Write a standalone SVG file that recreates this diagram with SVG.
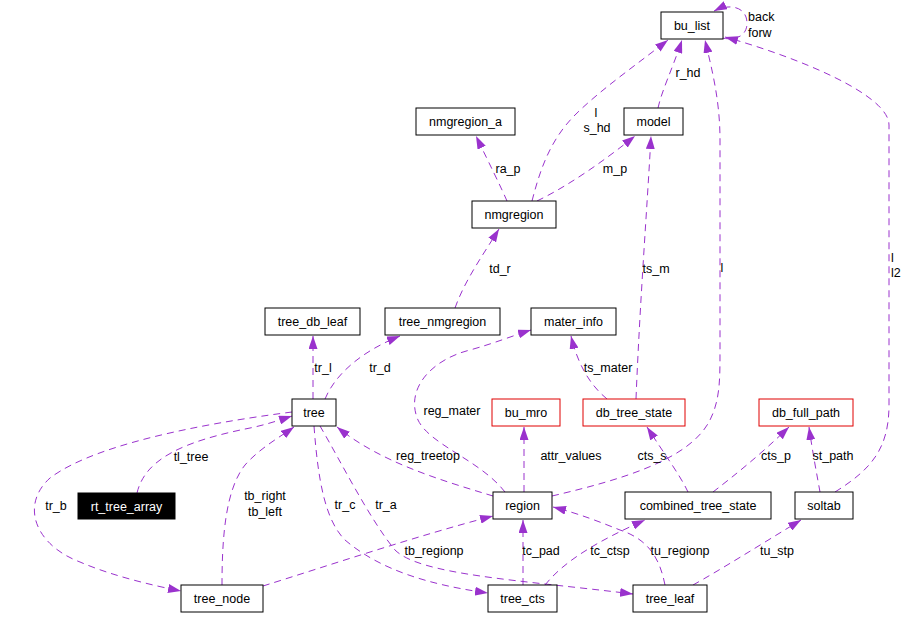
<svg xmlns="http://www.w3.org/2000/svg" width="908" height="617" viewBox="0 0 908 617">
<style>
.n rect{fill:#fff;stroke:#000;stroke-width:1}
.n.r rect{stroke:#e00000}
.n.b rect{fill:#000}
text{font-family:"Liberation Sans",Arial,sans-serif;font-size:12.5px;fill:#000}
.n text{text-anchor:middle}
.n.b text{fill:#fff}
.e path{fill:none;stroke:#9a32cd;stroke-width:1;stroke-dasharray:7,5;marker-end:url(#ah)}
.lb text{text-anchor:middle}
</style>
<defs>
<marker id="ah" viewBox="0 0 13 9" markerWidth="13" markerHeight="9" refX="13" refY="4.5" orient="auto" markerUnits="userSpaceOnUse">
<path d="M0,0 L13,4.5 L0,9 z" fill="#9a32cd"/>
</marker>
</defs>
<rect width="908" height="617" fill="#fff"/>
<g id="edges" class="e">
<path d="M722,38 C742,42 750,30 746,17 C742,6 728,4 714,11"/>
<path d="M835,492 C870,470 889,450 889,405 L889,125 C889,95 800,58 725,37"/>
<path d="M532,201 C540,170 550,140 575,115 C600,90 640,62 668,40"/>
<path d="M658,108 C662,90 672,70 682,40"/>
<path d="M552,496 C620,480 690,460 710,420 C720,400 720,380 720,350 L720,140 C720,100 712,70 705,40"/>
<path d="M636,399 C640,300 647,210 651,136"/>
<path d="M507,201 C500,185 490,165 476,136"/>
<path d="M537,201 C570,185 605,160 635,136"/>
<path d="M455,308 C465,280 483,255 499,229"/>
<path d="M313,399 L313,336"/>
<path d="M325,399 C335,375 360,352 400,336"/>
<path d="M505,492 C480,460 430,445 418,420 C405,390 430,360 470,350 C495,343 512,336 531,330"/>
<path d="M607,399 C590,385 578,365 571,336"/>
<path d="M524,492 L524,427"/>
<path d="M493,496 C440,480 380,462 337,427"/>
<path d="M688,492 C680,475 665,455 647,427"/>
<path d="M713,492 C735,475 760,455 789,427"/>
<path d="M820,492 C817,475 813,455 809,427"/>
<path d="M137,493 C145,460 180,442 250,428 C265,425 280,420 292,416"/>
<path d="M292,412 C230,420 100,440 50,478 C20,505 35,545 80,562 C110,575 150,585 181,591"/>
<path d="M222,585 C222,540 225,490 245,465 C260,448 280,437 294,427"/>
<path d="M314,426 C318,480 325,520 345,540 C380,570 430,585 488,593"/>
<path d="M320,426 C340,460 370,520 395,550 C420,575 520,580 633,594"/>
<path d="M263,586 C330,565 420,535 493,516"/>
<path d="M523,585 L523,520"/>
<path d="M545,585 C565,560 600,540 645,520"/>
<path d="M665,585 C660,560 650,540 620,530 C600,522 580,514 553,507"/>
<path d="M693,585 C720,570 760,545 801,520"/>
</g>
<g id="labels" class="lb">
<text x="748" y="21" style="text-anchor:start">back</text>
<text x="748" y="37" style="text-anchor:start">forw</text>
<text x="688" y="77">r_hd</text>
<text x="596" y="117">l</text>
<text x="597" y="132">s_hd</text>
<text x="508" y="173">ra_p</text>
<text x="615" y="173">m_p</text>
<text x="656" y="273">ts_m</text>
<text x="500" y="273">td_r</text>
<text x="722" y="272">l</text>
<text x="891" y="262" style="text-anchor:start">l</text>
<text x="891" y="277" style="text-anchor:start">l2</text>
<text x="323" y="372">tr_l</text>
<text x="380" y="372">tr_d</text>
<text x="608" y="372">ts_mater</text>
<text x="452" y="415">reg_mater</text>
<text x="191" y="461">tl_tree</text>
<text x="428" y="460">reg_treetop</text>
<text x="571" y="460">attr_values</text>
<text x="652" y="460">cts_s</text>
<text x="776" y="460">cts_p</text>
<text x="833" y="460">st_path</text>
<text x="56" y="510">tr_b</text>
<text x="265" y="500">tb_right</text>
<text x="265" y="516">tb_left</text>
<text x="345" y="509">tr_c</text>
<text x="386" y="509">tr_a</text>
<text x="434" y="555">tb_regionp</text>
<text x="541" y="555">tc_pad</text>
<text x="610" y="555">tc_ctsp</text>
<text x="680" y="555">tu_regionp</text>
<text x="777" y="555">tu_stp</text>
</g>
<g id="bu_list" class="n"><rect x="661" y="12" width="62" height="27"/><text x="692" y="30">bu_list</text></g>
<g id="model" class="n"><rect x="624" y="108" width="59" height="27"/><text x="653.5" y="126">model</text></g>
<g id="nmgregion_a" class="n"><rect x="416" y="108" width="99" height="27"/><text x="465.5" y="126">nmgregion_a</text></g>
<g id="nmgregion" class="n"><rect x="472" y="201" width="84" height="27"/><text x="514" y="219">nmgregion</text></g>
<g id="tree_db_leaf" class="n"><rect x="265" y="308" width="95" height="27"/><text x="312.5" y="326">tree_db_leaf</text></g>
<g id="tree_nmgregion" class="n"><rect x="385" y="308" width="115" height="27"/><text x="442.5" y="326">tree_nmgregion</text></g>
<g id="mater_info" class="n"><rect x="531" y="308" width="85" height="27"/><text x="573.5" y="326">mater_info</text></g>
<g id="tree" class="n"><rect x="292" y="399" width="44" height="27"/><text x="314" y="417">tree</text></g>
<g id="bu_mro" class="n r"><rect x="492" y="399" width="68" height="27"/><text x="526" y="417">bu_mro</text></g>
<g id="db_tree_state" class="n r"><rect x="583" y="399" width="102" height="27"/><text x="634" y="417">db_tree_state</text></g>
<g id="db_full_path" class="n r"><rect x="759" y="399" width="94" height="27"/><text x="806" y="417">db_full_path</text></g>
<g id="rt_tree_array" class="n b"><rect x="78" y="493" width="97" height="26"/><text x="126.5" y="510.5">rt_tree_array</text></g>
<g id="region" class="n"><rect x="493" y="492" width="59" height="27"/><text x="522.5" y="510">region</text></g>
<g id="combined_tree_state" class="n"><rect x="625" y="492" width="146" height="27"/><text x="698" y="510">combined_tree_state</text></g>
<g id="soltab" class="n"><rect x="795" y="492" width="58" height="27"/><text x="824" y="510">soltab</text></g>
<g id="tree_node" class="n"><rect x="181" y="585" width="82" height="27"/><text x="222" y="603">tree_node</text></g>
<g id="tree_cts" class="n"><rect x="488" y="585" width="69" height="27"/><text x="522.5" y="603">tree_cts</text></g>
<g id="tree_leaf" class="n"><rect x="633" y="585" width="74" height="27"/><text x="670" y="603">tree_leaf</text></g>
</svg>
